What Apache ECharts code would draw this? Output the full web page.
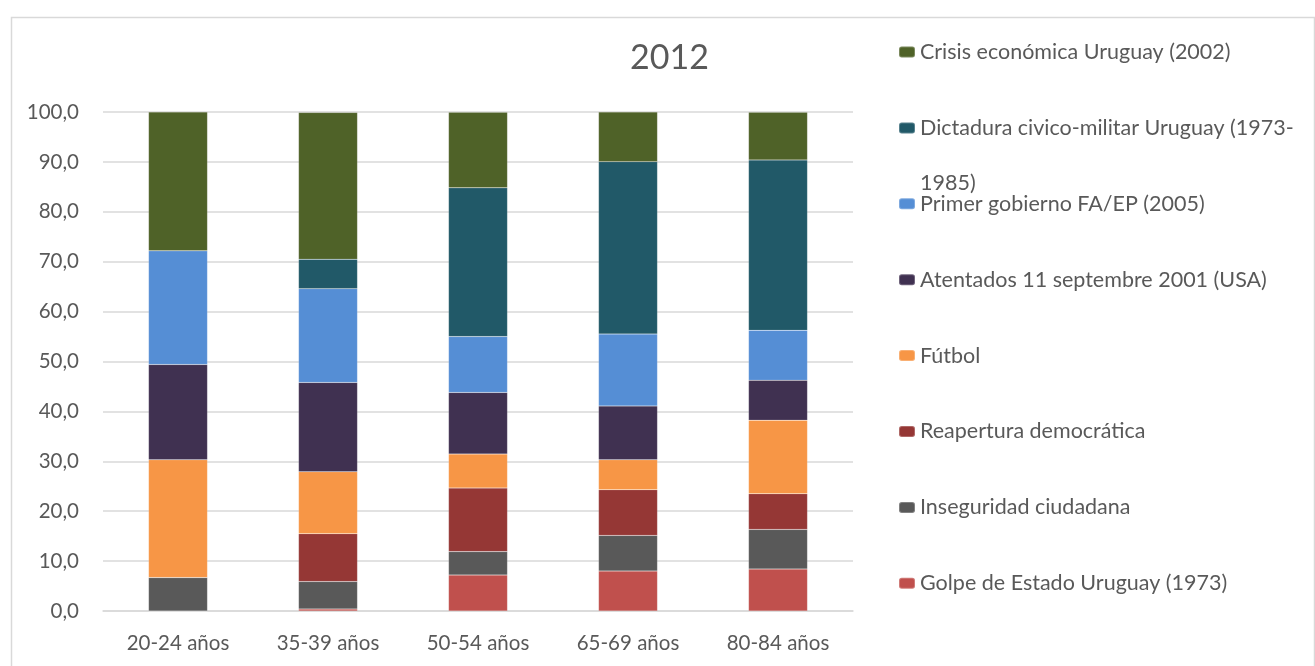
<!DOCTYPE html>
<html>
<head>
<meta charset="utf-8">
<script src="https://cdn.jsdelivr.net/npm/echarts@6/dist/echarts.min.js"></script>
<style>
html,body{margin:0;padding:0;background:#fff;}
#main{width:1315px;height:666px;}
</style>
</head>
<body>
<div id="main"></div>
<script>
const categories = ['20-24 años', '35-39 años', '50-54 años', '65-69 años', '80-84 años'];
const golpe       = [0.0, 0.4, 7.2, 8.0, 8.4];
const inseguridad = [6.7, 5.5, 4.7, 7.15, 7.95];
const reapertura  = [0.0, 9.6, 12.75, 9.15, 7.15];
const futbol      = [23.6, 12.4, 6.8, 6.0, 14.75];
const atentados   = [19.1, 17.9, 12.35, 10.8, 8.0];
const primer      = [22.8, 18.8, 11.2, 14.4, 10.0];
const dictadura   = [0.0, 5.9, 29.8, 34.55, 34.15];
const crisis      = [27.8, 29.4, 15.15, 9.95, 9.55];
const yTicks = [0, 10, 20, 30, 40, 50, 60, 70, 80, 90, 100];

const seriesDefs = [
  {name: 'Golpe de Estado Uruguay (1973)', data: golpe, color: '#c0504d'},
  {name: 'Inseguridad ciudadana', data: inseguridad, color: '#595959'},
  {name: 'Reapertura democrática', data: reapertura, color: '#953735'},
  {name: 'Fútbol', data: futbol, color: '#f79646'},
  {name: 'Atentados 11 septembre 2001 (USA)', data: atentados, color: '#403151'},
  {name: 'Primer gobierno FA/EP (2005)', data: primer, color: '#558ed5'},
  {name: 'Dictadura civico-militar Uruguay (1973-1985)', data: dictadura, color: '#215968'},
  {name: 'Crisis económica Uruguay (2002)', data: crisis, color: '#4f6228'}
];

const FONT = 'Lato';
const TXT = '#595959';

const legendOrder = seriesDefs.slice().reverse();
const legends = legendOrder.map(function (s, i) {
  return {
    left: 893,
    top: 48 + i * 75.9 - 12,
    orient: 'vertical',
    itemWidth: 16,
    itemHeight: 11,
    itemGap: 0,
    data: [s.name],
    selectedMode: false,
    formatter: function (n) {
      return n === 'Dictadura civico-militar Uruguay (1973-1985)' ? 'Dictadura civico-militar Uruguay (1973-' : n;
    },
    textStyle: {fontFamily: FONT, fontSize: 21.5, color: TXT, padding: [0, 0, 0, 0]}
  };
});

const chart = echarts.init(document.getElementById('main'), null, {renderer: 'canvas'});
chart.setOption({
  backgroundColor: '#fff',
  animation: false,
  title: {
    text: '2012',
    left: 625,
    top: 36,
    textStyle: {fontFamily: FONT, fontSize: 34, fontWeight: 'normal', color: TXT}
  },
  graphic: [
    {type: 'rect', left: 9, top: 15, shape: {width: 1303, height: 660}, style: {fill: 'none', stroke: '#d9d9d9', lineWidth: 1.5}, z: -1},
    {type: 'text', left: 920, top: 172, style: {text: '1985)', fontFamily: FONT, fontSize: 21.5, fill: TXT}}
  ],
  legend: legends,
  grid: {left: 103, right: 1315 - 853, top: 112, bottom: 666 - 611, containLabel: false},
  xAxis: {
    type: 'category',
    data: categories,
    axisLine: {lineStyle: {color: '#d9d9d9', width: 1.5}},
    axisTick: {show: false},
    axisLabel: {fontFamily: FONT, fontSize: 20.5, color: TXT, margin: 22}
  },
  yAxis: {
    type: 'value',
    min: yTicks[0],
    max: yTicks[yTicks.length - 1],
    interval: 10,
    axisLine: {show: false},
    axisTick: {show: false},
    splitLine: {lineStyle: {color: '#d9d9d9', width: 1.5}},
    axisLabel: {
      fontFamily: FONT, fontSize: 20.5, color: TXT, margin: 24,
      formatter: function (v) { return v.toFixed(1).replace('.', ','); }
    }
  },
  series: seriesDefs.map(function (s) {
    return {
      name: s.name,
      type: 'bar',
      stack: 'total',
      data: s.data,
      barWidth: 59,
      itemStyle: {color: s.color, borderColor: 'rgba(255,255,255,0.25)', borderWidth: 0.5}
    };
  })
});
</script>
</body>
</html>
